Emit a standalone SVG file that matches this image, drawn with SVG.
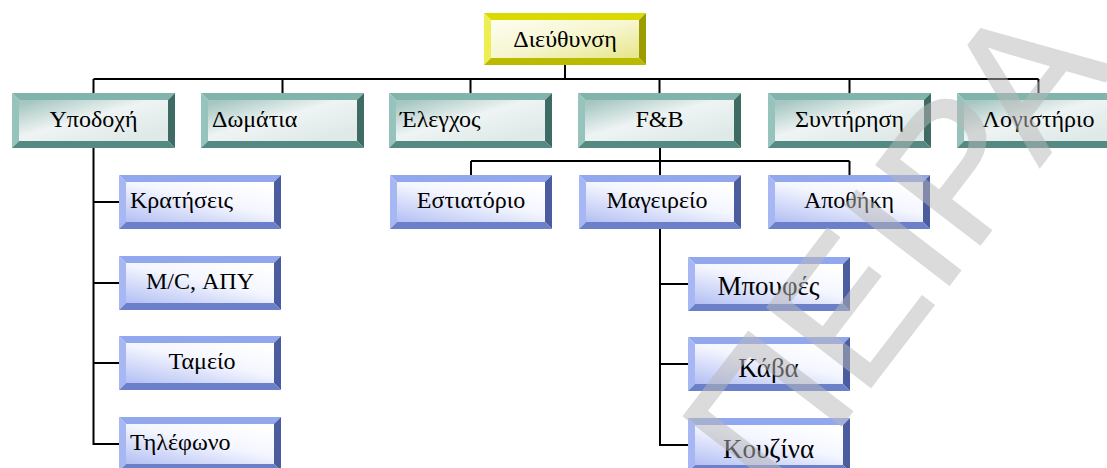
<svg xmlns="http://www.w3.org/2000/svg" xmlns:xlink="http://www.w3.org/1999/xlink" width="1107" height="468" viewBox="0 0 1107 468">
  <style>
    .lbl { font-family: "Liberation Serif", "Times New Roman", serif; font-size: 24px; fill: #000; }
    .big { font-size: 27px; }
    .mid { text-anchor: middle; }
    .wire { fill: none; stroke: #000; stroke-width: 2; }
    .wm { font-family: "Liberation Sans", Arial, sans-serif; font-size: 190px; fill: #b8b8b8; stroke: #b8b8b8; stroke-width: 2; }
  </style>
  <defs>
    <!-- face fills -->
    <linearGradient id="faceTeal" x1="0" y1="0.1" x2="0.8" y2="0.9">
      <stop offset="0" stop-color="#a6c6c1"/>
      <stop offset="0.5" stop-color="#eef4f3"/>
      <stop offset="1" stop-color="#dfeae8"/>
    </linearGradient>
    <linearGradient id="faceBlue" x1="0" y1="1" x2="0.8" y2="0">
      <stop offset="0" stop-color="#b3bff3"/>
      <stop offset="0.6" stop-color="#f4f6ff"/>
      <stop offset="1" stop-color="#ffffff"/>
    </linearGradient>
    <linearGradient id="faceYellow" x1="0" y1="0" x2="1" y2="1">
      <stop offset="0" stop-color="#fdfdf2"/>
      <stop offset="0.5" stop-color="#f6f6d0"/>
      <stop offset="1" stop-color="#e6e68a"/>
    </linearGradient>

    <!-- bevelled box, teal (163 x 55) -->
    <g id="boxTeal">
      <polygon points="0,0 163,0 156,7 7,7" fill="#80b4ac"/>
      <polygon points="0,0 7,7 7,48 0,55" fill="#96c3bc"/>
      <polygon points="163,0 163,55 156,48 156,7" fill="#3e6b64"/>
      <polygon points="0,55 7,48 156,48 163,55" fill="#558a82"/>
      <rect x="7" y="7" width="149" height="41" fill="url(#faceTeal)"/>
    </g>
    <!-- bevelled box, blue (162 x 54) -->
    <g id="boxBlue">
      <polygon points="0,0 162,0 155,7 7,7" fill="#91a7ee"/>
      <polygon points="0,0 7,7 7,47 0,54" fill="#a6b7f3"/>
      <polygon points="162,0 162,54 155,47 155,7" fill="#4b5c9f"/>
      <polygon points="0,54 7,47 155,47 162,54" fill="#6b80c9"/>
      <rect x="7" y="7" width="148" height="40" fill="url(#faceBlue)"/>
    </g>
    <!-- bevelled box, yellow (162 x 52) -->
    <g id="boxYellow">
      <polygon points="0,0 162,0 155,7 7,7" fill="#dada00"/>
      <polygon points="0,0 7,7 7,45 0,52" fill="#eeee50"/>
      <polygon points="162,0 162,52 155,45 155,7" fill="#9c9c00"/>
      <polygon points="0,52 7,45 155,45 162,52" fill="#baba00"/>
      <rect x="7" y="7" width="148" height="38" fill="url(#faceYellow)"/>
    </g>
  </defs>

  <rect width="1107" height="468" fill="#ffffff"/>

  <!-- connectors -->
  <g id="connectors" class="wire">
    <path d="M565,65 V79"/>
    <path d="M93.5,79 H1038.5"/>
    <path d="M93.5,79 V93 M282.5,79 V93 M470.5,79 V93 M659.5,79 V93 M849.5,79 V93 M1038.5,79 V93"/>
    <!-- F&B branch -->
    <path d="M660,148 V175 M471,161 H849.5 M471,161 V175 M849.5,161 V175"/>
    <!-- kitchen branch -->
    <path d="M660,229 V446 M660,284 H688 M660,364 H688 M660,445 H688"/>
    <!-- reception branch -->
    <path d="M93.5,148 V445 M93.5,202 H119 M93.5,283 H119 M93.5,363 H119 M93.5,444 H119"/>
  </g>

  <!-- top -->
  <g id="n-dieuthynsi">
    <use href="#boxYellow" x="484" y="13"/>
    <text class="lbl mid" x="565" y="47">Διεύθυνση</text>
  </g>

  <!-- departments -->
  <g id="n-ypodoxi">
    <use href="#boxTeal" x="12" y="93"/>
    <text class="lbl mid" x="93.5" y="127">Υποδοχή</text>
  </g>
  <g id="n-domatia">
    <use href="#boxTeal" x="201" y="93"/>
    <text class="lbl" x="212" y="127">Δωμάτια</text>
  </g>
  <g id="n-elegchos">
    <use href="#boxTeal" x="389" y="93"/>
    <text class="lbl" x="400" y="127">Έλεγχος</text>
  </g>
  <g id="n-fb">
    <use href="#boxTeal" x="578" y="93"/>
    <text class="lbl mid" x="659.5" y="127">F&amp;B</text>
  </g>
  <g id="n-syntirisi">
    <use href="#boxTeal" x="768" y="93"/>
    <text class="lbl mid" x="849.5" y="127">Συντήρηση</text>
  </g>
  <g id="n-logistirio">
    <use href="#boxTeal" x="957" y="93"/>
    <text class="lbl mid" x="1038.5" y="127">Λογιστήριο</text>
  </g>

  <!-- reception sections -->
  <g id="n-kratiseis">
    <use href="#boxBlue" x="119" y="175"/>
    <text class="lbl" x="130" y="208">Κρατήσεις</text>
  </g>
  <g id="n-mc-apy">
    <use href="#boxBlue" x="119" y="256"/>
    <text class="lbl mid" x="200" y="289">M/C, ΑΠΥ</text>
  </g>
  <g id="n-tameio">
    <use href="#boxBlue" x="119" y="336"/>
    <text class="lbl mid" x="202" y="369">Ταμείο</text>
  </g>
  <g id="n-tilefono">
    <use href="#boxBlue" x="119" y="417"/>
    <text class="lbl" x="130" y="450">Τηλέφωνο</text>
  </g>

  <!-- F&B sections -->
  <g id="n-estiatorio">
    <use href="#boxBlue" x="390" y="175"/>
    <text class="lbl mid" x="471" y="208">Εστιατόριο</text>
  </g>
  <g id="n-mageireio">
    <use href="#boxBlue" x="579" y="175"/>
    <text class="lbl mid" x="657" y="208">Μαγειρείο</text>
  </g>
  <g id="n-apothiki">
    <use href="#boxBlue" x="768" y="175"/>
    <text class="lbl mid" x="849" y="208">Αποθήκη</text>
  </g>

  <!-- kitchen sections -->
  <g id="n-bouffes">
    <use href="#boxBlue" x="688" y="257"/>
    <text class="lbl big mid" x="768.5" y="295">Μπουφές</text>
  </g>
  <g id="n-kava">
    <use href="#boxBlue" x="688" y="337"/>
    <text class="lbl big mid" x="768.5" y="377">Κάβα</text>
  </g>
  <g id="n-kouzina">
    <use href="#boxBlue" x="688" y="418"/>
    <text class="lbl big mid" x="768.5" y="458">Κουζίνα</text>
  </g>

  <!-- translucent diagonal watermark over the chart -->
  <g id="watermark" opacity="0.5">
    <text class="wm" transform="translate(778,508) rotate(-52.5)">ΠΕΙΡΑ</text>
  </g>
</svg>
